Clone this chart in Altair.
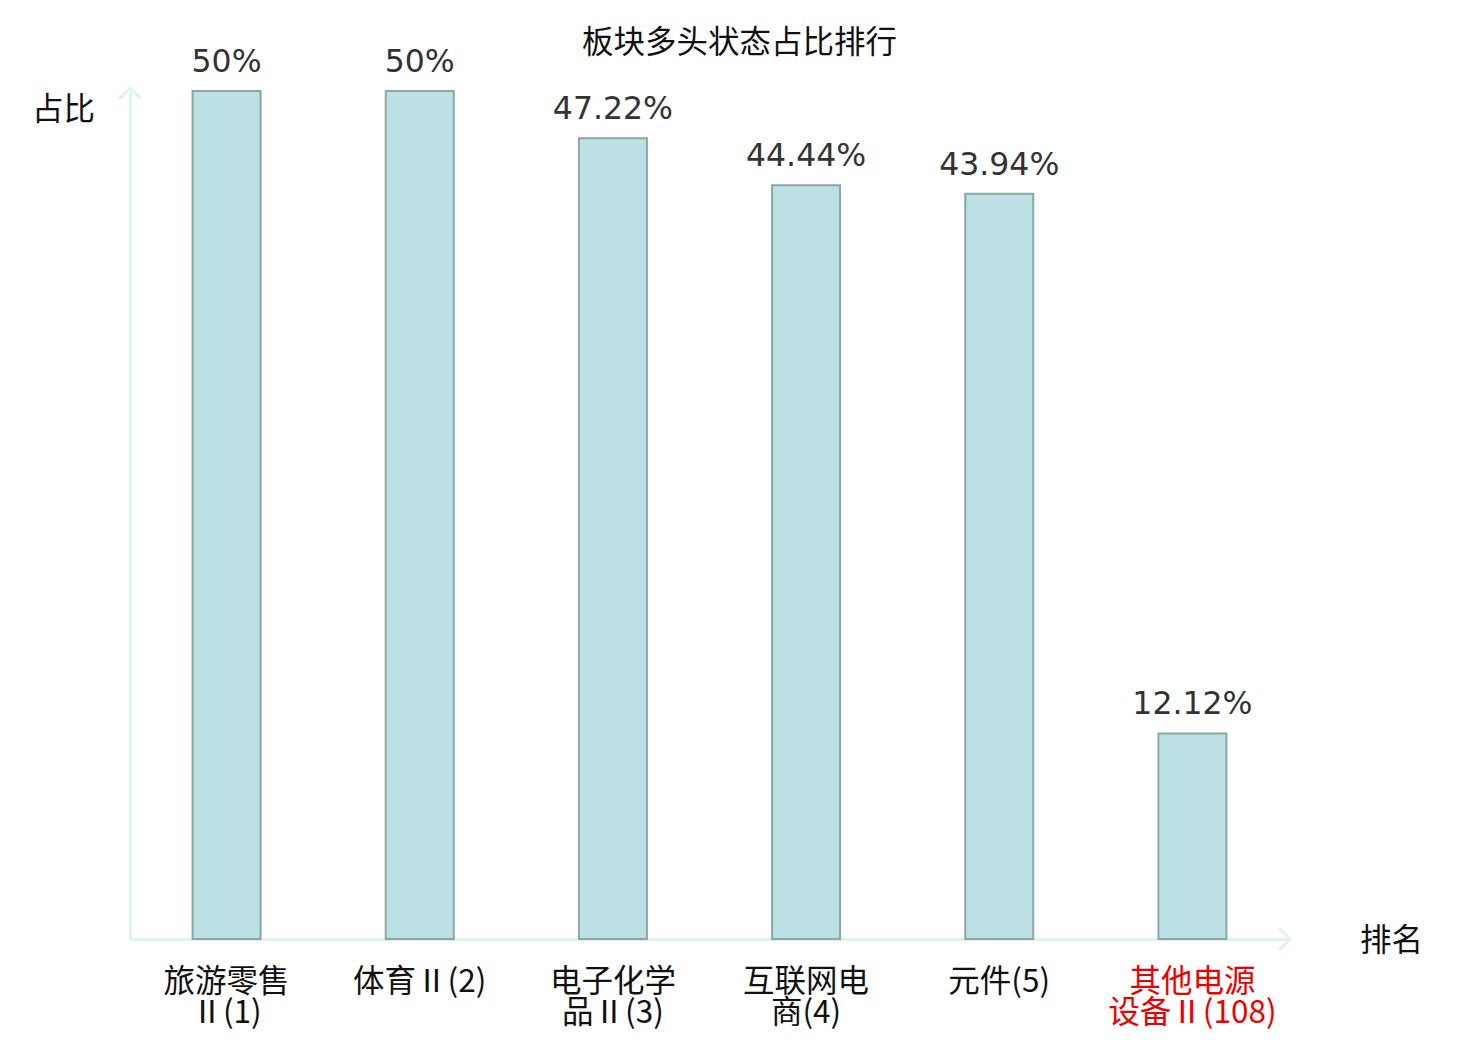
import altair as alt
import pandas as pd

title_text = "板块多头状态占比排行"
names = ["旅游零售\nⅡ(1)", "体育Ⅱ(2)", "电子化学\n品Ⅱ(3)", "互联网电\n商(4)", "元件(5)", "其他电源\n设备Ⅱ(108)"]
values = [50.0, 50.0, 47.22, 44.44, 43.94, 12.12]
value_labels = ["50%", "50%", "47.22%", "44.44%", "43.94%", "12.12%"]
highlight = "其他电源\n设备Ⅱ(108)"

df = pd.DataFrame({"name": names, "value": values, "label": value_labels})

W, H = 1159, 848
CJK = "Noto Sans CJK SC"
FS = 31.5
AXIS_C = "#dff3f0"

x_enc = alt.X(
    "name:N",
    sort=names,
    scale=alt.Scale(paddingInner=0, paddingOuter=0),
    axis=alt.Axis(
        title="排名",
        titleFont=CJK,
        titleFontSize=FS,
        titleFontWeight="normal",
        titleColor="#111111",
        titleAngle=0,
        titleAlign="center",
        titleBaseline="middle",
        titleX=1261,
        titleY=2,
        domainColor=AXIS_C,
        domainWidth=3,
        ticks=False,
        labelAngle=0,
        labelFont=CJK,
        labelFontSize=FS,
        labelPadding=27,
        labelLineHeight=31,
        labelBaseline="top",
        labelExpr="split(datum.label, '\\n')",
        labelColor={"expr": f"datum.label == {highlight!r} ? '#ee0000' : '#111111'".replace("\n", "\\n")},
    ),
)
y_enc = alt.Y(
    "value:Q",
    scale=alt.Scale(domain=[0, 50], nice=False, zero=True),
    axis=alt.Axis(
        title="占比",
        titleFont=CJK,
        titleFontSize=FS,
        titleFontWeight="normal",
        titleColor="#111111",
        titleAngle=0,
        titleAlign="center",
        titleBaseline="middle",
        titleX=-67,
        titleY=19,
        domainColor=AXIS_C,
        domainWidth=3,
        ticks=False,
        labels=False,
        grid=False,
    ),
)

bars = alt.Chart(df).mark_bar(
    size=68, color="#bce0e3", stroke="#8aa7a8", strokeWidth=2
).encode(x=x_enc, y=y_enc)

texts = alt.Chart(df).mark_text(
    font="DejaVu Sans", fontSize=FS, color="#333333", dy=-19, baseline="alphabetic"
).encode(x=alt.X("name:N", sort=names), y="value:Q", text="label:N")

one = alt.Data(values=[{"a": 1}])
up_arrow = alt.Chart(one).mark_point(
    shape="M-1,1L0,0L1,1", size=484, filled=False, stroke=AXIS_C, strokeWidth=3, opacity=1
).encode(x=alt.value(0), y=alt.value(-3))
right_arrow = alt.Chart(one).mark_point(
    shape="M-1,-1L0,0L-1,1", size=484, filled=False, stroke=AXIS_C, strokeWidth=3, opacity=1
).encode(x=alt.value(W + 1), y=alt.value(H))

chart = alt.layer(bars, texts, up_arrow, right_arrow).properties(
    width=W,
    height=H,
    autosize=alt.AutoSizeParams(type="none"),
    padding={"left": 122, "top": 83, "right": 183, "bottom": 93},
    title=alt.TitleParams(
        title_text, font=CJK, fontSize=FS, fontWeight="normal", color="#111111",
        anchor="middle", frame="group", baseline="middle", dx=30, dy=32, offset=4,
    ),
).configure_view(stroke=None).configure_axis(grid=False)

chart.save("out.html", embed_options={"renderer": "svg", "actions": False})
